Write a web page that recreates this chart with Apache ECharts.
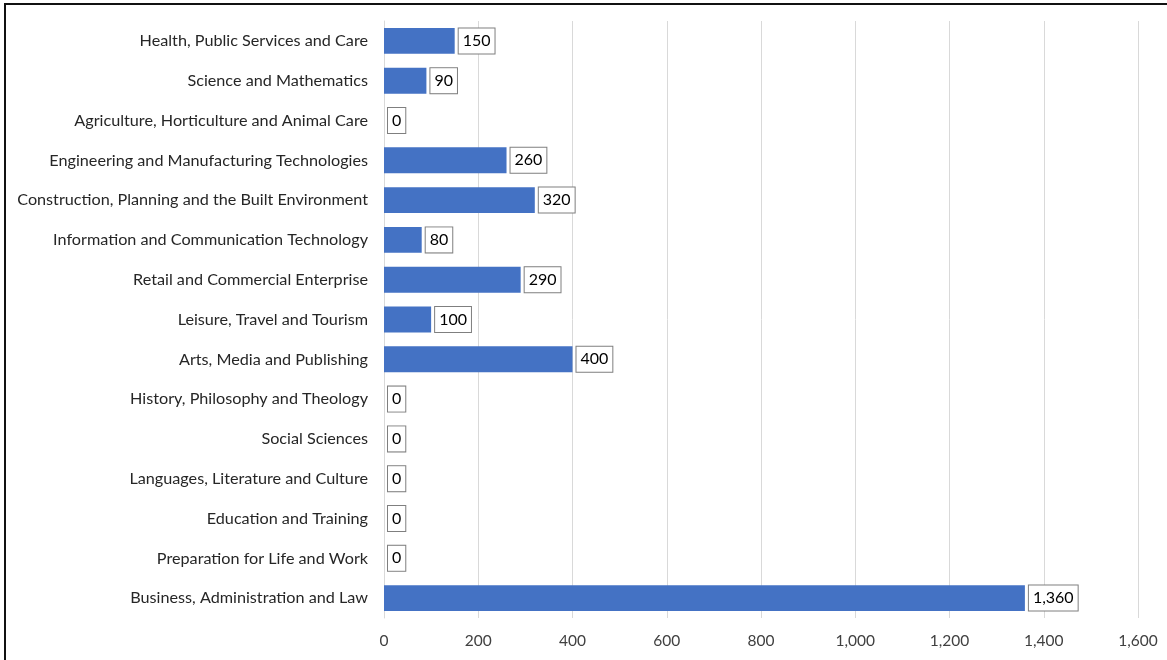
<!DOCTYPE html>
<html>
<head>
<meta charset="utf-8">
<script src="https://cdn.jsdelivr.net/npm/echarts@6/dist/echarts.min.js"></script>
<style>
  html, body { margin: 0; padding: 0; background: #fff; overflow: hidden; }
  #frame { position: absolute; left: 4px; top: 3px; width: 1200px; height: 700px;
           border-left: 2px solid #111; border-top: 2px solid #111; }
  #chart { position: absolute; left: 0; top: 0; width: 1167px; height: 660px; }
</style>
</head>
<body>
<div id="frame"></div>
<div id="chart"></div>
<script>
// categories, top to bottom as in the picture
var categories = [
    "Health, Public Services and Care",
    "Science and Mathematics",
    "Agriculture, Horticulture and Animal Care",
    "Engineering and Manufacturing Technologies",
    "Construction, Planning and the Built Environment",
    "Information and Communication Technology",
    "Retail and Commercial Enterprise",
    "Leisure, Travel and Tourism",
    "Arts, Media and Publishing",
    "History, Philosophy and Theology",
    "Social Sciences",
    "Languages, Literature and Culture",
    "Education and Training",
    "Preparation for Life and Work",
    "Business, Administration and Law"
];
var values = [150, 90, 0, 260, 320, 80, 290, 100, 400, 0, 0, 0, 0, 0, 1360];
var tickLabels = [0, 200, 400, 600, 800, 1000, 1200, 1400, 1600];

var FONT = 'Lato';

var option = {
    animation: false,
    grid: { left: 384, right: 29, top: 21, bottom: 42, containLabel: false },
    xAxis: {
        type: 'value',
        min: tickLabels[0],
        max: tickLabels[tickLabels.length - 1],
        interval: 200,
        axisLine: { show: false },
        axisTick: { show: false },
        splitLine: { lineStyle: { color: '#d9d9d9', width: 1 } },
        axisLabel: {
            fontFamily: FONT, fontSize: 15.5, color: '#404040', margin: 15,
            formatter: function (v) { return v.toLocaleString('en-US'); }
        }
    },
    yAxis: {
        type: 'category',
        inverse: true,
        data: categories,
        axisLine: { lineStyle: { color: '#d9d9d9' } },
        axisTick: { show: false },
        axisLabel: { fontFamily: FONT, fontSize: 16.2, color: '#262626', margin: 16 }
    },
    series: [{
        type: 'bar',
        data: values,
        barCategoryGap: '35%',
        itemStyle: { color: '#4472C4' },
        label: {
            show: true,
            position: 'right',
            distance: 4,
            fontFamily: FONT, fontSize: 16, color: '#000',
            backgroundColor: '#fff',
            borderColor: '#7f7f7f', borderWidth: 1,
            padding: [5, 4, 4, 4],
            formatter: function (p) { return p.value.toLocaleString('en-US'); }
        }
    }]
};

var myChart = echarts.init(document.getElementById('chart'));
myChart.setOption(option);
</script>
</body>
</html>
